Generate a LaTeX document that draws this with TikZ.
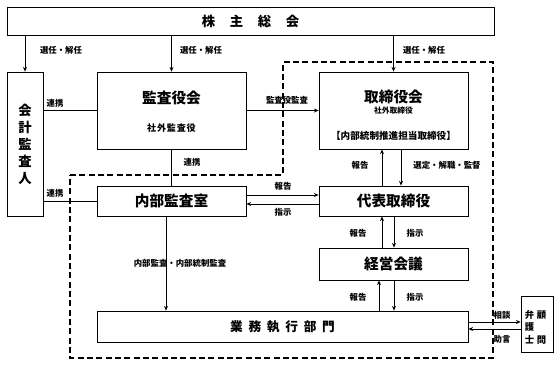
\documentclass[tikz,border=0pt]{standalone}
\usepackage{fontspec}
\newfontfamily\jp{Noto Sans CJK JP}
\usetikzlibrary{arrows.meta}
\newdimen\px \px=0.75pt
\begin{document}
\begin{tikzpicture}[x=0.75pt,y=-0.75pt, font=\jp,
  box/.style={draw, line width=0.6pt, inner sep=0pt},
  lab/.style={font=\jp\bfseries\fontsize{6.3}{7}\selectfont, inner sep=0pt},
  ttl/.style={font=\jp\bfseries\fontsize{11}{12}\selectfont, inner sep=0pt},
  sub/.style={font=\jp\bfseries\fontsize{6.8}{8}\selectfont, inner sep=0pt},
  con/.style={line width=0.6pt},
  arr/.style={con, -{Stealth[length=3.5pt,width=3pt]}},
  frame/.style={line width=1.2pt, dash pattern=on 4.5pt off 2.5pt}]
\useasboundingbox (0,0) rectangle (559,365);
\fill[white] (0,0) rectangle (559,365);

% boxes
\node[box, minimum width=487\px, minimum height=28\px,
      font=\jp\bfseries\fontsize{10}{12}\selectfont] (top) at (250.5,21)
      {株\hspace{11pt}主\hspace{11pt}総\hspace{11pt}会};
\node[box, minimum width=36\px, minimum height=144\px, align=center,
      font=\jp\bfseries\fontsize{10}{12.75}\selectfont] (kaikei) at (25,144)
      {会\\計\\監\\査\\人};
\node[box, minimum width=149\px, minimum height=77\px] (kansa) at (171.5,110.5) {};
\node[box, minimum width=149\px, minimum height=77\px] (tori) at (393.5,110.5) {};
\node[box, minimum width=149\px, minimum height=30\px, ttl] (naibu) at (171.5,201) {内部監査室};
\node[box, minimum width=149\px, minimum height=30\px, ttl] (daihyo) at (393.5,201) {代表取締役};
\node[box, minimum width=149\px, minimum height=32\px, ttl] (keiei) at (393.5,264) {経営会議};
\node[box, minimum width=371\px, minimum height=31\px,
      font=\jp\bfseries\fontsize{9.5}{11}\selectfont] (gyomu) at (282.5,326.5)
      {業\hspace{4.3pt}務\hspace{4.3pt}執\hspace{4.3pt}行\hspace{4.3pt}部\hspace{4.3pt}門};
\node[box, minimum width=32\px, minimum height=56\px] (bengo) at (537,324) {};

% texts inside boxes
\node[ttl] (kansaT) at (171.5,98) {監査役会};
\node[sub] (kansaS) at (171.5,128) {社\hspace{0.6pt}外\hspace{0.6pt}監\hspace{0.6pt}査\hspace{0.6pt}役};
\node[ttl] (toriT) at (393.5,97) {取締役会};
\node[sub, font=\jp\bfseries\fontsize{5.8}{7}\selectfont] (toriS) at (393.5,111) {社外取締役};
\node[sub, font=\jp\bfseries\fontsize{7.2}{8}\selectfont] (toriN) at (393.5,136) {【内部統制推進担当取締役】};
\begin{scope}[every node/.style={font=\jp\bfseries\fontsize{7}{8}\selectfont, inner sep=0pt}]
\node (b1) at (529.5,315) {弁};
\node (b2) at (529.5,327) {護};
\node (b3) at (529.5,340) {士};
\node (b4) at (541.5,315) {顧};
\node (b5) at (541.5,340) {問};
\end{scope}

% connectors
\draw[arr] (top.south -| kaikei.north) -- (kaikei.north);
\draw[arr] (top.south -| kansa.north) -- (kansa.north);
\draw[arr] (top.south -| tori.north) -- (tori.north);
\draw[con] (kaikei.east |- kansa.west) -- (kansa.west);
\draw[arr] (kansa.east) -- (tori.west);
\draw[con] (kansa.south) -- (naibu.north);
\draw[con] (kaikei.east |- naibu.west) -- (naibu.west);
\draw[arr] (naibu.east |- 0,195) -- (daihyo.west |- 0,195);
\draw[arr] (daihyo.west |- 0,204) -- (naibu.east |- 0,204);
\draw[arr] (daihyo.north -| 382,0) -- (tori.south -| 382,0);
\draw[arr] (tori.south -| 401,0) -- (daihyo.north -| 401,0);
\draw[arr] (keiei.north -| 382,0) -- (daihyo.south -| 382,0);
\draw[arr] (daihyo.south -| 394,0) -- (keiei.north -| 394,0);
\draw[arr] (gyomu.north -| 379,0) -- (keiei.south -| 379,0);
\draw[arr] (keiei.south -| 394,0) -- (gyomu.north -| 394,0);
\draw[arr] (naibu.south -| 166,0) -- (gyomu.north -| 166,0);
\draw[arr] (gyomu.east |- 0,322) -- (bengo.west |- 0,322);
\draw[arr] (bengo.west |- 0,329) -- (gyomu.east |- 0,329);

% dashed frame
\draw[frame] (70,175) -- (283,175) -- (283,62) -- (493,62) -- (493,358) -- (70,358) -- cycle;

% labels
\node[lab] at (61,50) {選任・解任};
\node[lab] at (201,50) {選任・解任};
\node[lab] at (424,50) {選任・解任};
\node[lab] at (55,103) {連携};
\node[lab] at (192,162) {連携};
\node[lab] at (55,193) {連携};
\node[lab] at (287,100) {監査役監査};
\node[lab] at (360,165) {報告};
\node[lab] at (447,165) {選定・解職・監督};
\node[lab] at (283,186) {報告};
\node[lab] at (283,212) {指示};
\node[lab] at (358,233) {報告};
\node[lab] at (415,233) {指示};
\node[lab] at (358,297) {報告};
\node[lab] at (415,297) {指示};
\node[lab] at (180,263) {内部監査・内部統制監査};
\node[lab] at (502,315) {相談};
\node[lab] at (502,339) {助言};
\end{tikzpicture}
\end{document}
